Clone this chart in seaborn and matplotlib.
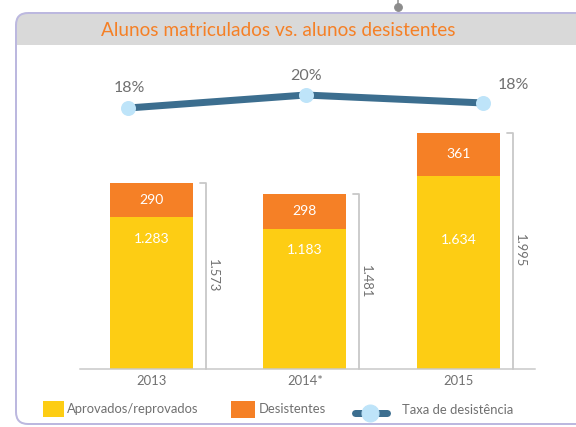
import numpy as np
import pandas as pd
import seaborn as sns
import matplotlib.pyplot as plt
from matplotlib.patches import FancyBboxPatch, Rectangle

# data
years = ['2013', '2014*', '2015']
aprovados = [1283, 1183, 1634]
desistentes = [290, 298, 361]
totais = [1573, 1481, 1995]
taxa = [18.2, 20.0, 18.9]          # drop-out rate, as drawn
taxa_labels = ['18%', '20%', '18%']
aprov_labels = ['1.283', '1.183', '1.634']
total_labels = ['1.573', '1.481', '1.995']
legend_labels = ['Aprovados/reprovados', 'Desistentes', 'Taxa de desistência']

yellow = '#FDCD14'
orange = '#F58026'
navy = '#3C6E8F'
light = '#BEE4F9'
grey_txt = '#707070'
grey_line = '#c8c8c8'

sns.set_theme(style='white')
plt.rcParams['font.family'] = ['Lato', 'DejaVu Sans']

W, H = 576, 427
fig = plt.figure(figsize=(W / 72, H / 72), dpi=72)

# frame, title band and connector (pixel coords)
bg = fig.add_axes([0, 0, 1, 1], zorder=0)
bg.set_xlim(0, W)
bg.set_ylim(H, 0)
bg.axis('off')
clip = FancyBboxPatch((16, 13), 640, 411, boxstyle='round,pad=0,rounding_size=12',
                      fc='none', ec='none')
bg.add_patch(clip)
band = Rectangle((0, 0), W, 45, fc='#d9d9d9', ec='none', zorder=1)
bg.add_patch(band)
band.set_clip_path(clip)
bg.add_patch(FancyBboxPatch((16, 13), 640, 411, boxstyle='round,pad=0,rounding_size=12',
                            fc='none', ec='#bcb8df', lw=2, zorder=2))
bg.plot([398, 398], [0, 7], color='#8c8c8c', lw=1.5, zorder=3)
bg.scatter([398], [7], s=60, color='#8c8c8c', zorder=3)
bg.text(278, 31, 'Alunos matriculados vs. alunos desistentes', ha='center', va='center',
        color=orange, fontsize=19, zorder=3)

# legend
bg.add_patch(Rectangle((43, 401), 21, 16, fc=yellow, ec='none', zorder=3))
bg.text(67, 409, legend_labels[0], ha='left', va='center', color=grey_txt, fontsize=13)
bg.add_patch(Rectangle((231, 401), 24, 17, fc=orange, ec='none', zorder=3))
bg.text(259, 409, legend_labels[1], ha='left', va='center', color=grey_txt, fontsize=13)
bg.plot([355, 387], [413, 413], color=navy, lw=7, solid_capstyle='round', zorder=3)
bg.plot([370], [413], marker='o', ms=17, mfc=light, mec=light, zorder=4)
bg.text(402, 410, legend_labels[2], ha='left', va='center', color=grey_txt, fontsize=13)

# stacked bars
ax = fig.add_axes([80 / W, 1 - 369 / H, 455 / W, 309 / H], zorder=1)
ax.patch.set_alpha(0)
df = pd.DataFrame({'ano': years, 'total': totais, 'aprovados': aprovados})
sns.barplot(data=df, x='ano', y='total', color=orange, width=0.54, saturation=1,
            linewidth=0, ax=ax)
sns.barplot(data=df, x='ano', y='aprovados', color=yellow, width=0.54, saturation=1,
            linewidth=0, ax=ax)
ax.set_xlim(-0.466, 2.5)
ax.set_ylim(0, 2612)
for s in ['top', 'left', 'right']:
    ax.spines[s].set_visible(False)
ax.spines['bottom'].set_color(grey_line)
ax.spines['bottom'].set_linewidth(1.5)
ax.set_yticks([])
ax.tick_params(axis='x', length=0, colors=grey_txt, labelsize=13, pad=6)
ax.set_xlabel('')
ax.set_ylabel('')

px = 2612 / 309  # data units per pixel
yellow_label_px = [22, 21, 64]
for i in range(len(years)):
    ax.text(i, aprovados[i] + desistentes[i] / 2, str(desistentes[i]), ha='center', va='center',
            color='white', fontsize=14)
    ax.text(i, aprovados[i] - yellow_label_px[i] * px, aprov_labels[i], ha='center', va='center',
            color='white', fontsize=14)
    bx = i + 0.27 + 13 / 153.5
    ax.plot([bx - 0.04, bx, bx], [totais[i], totais[i], 0], color=grey_line, lw=1.8, clip_on=False)
    ax.text(bx + 7 / 153.5, totais[i] / 2, total_labels[i], rotation=270, ha='center', va='center',
            color=grey_txt, fontsize=13)

# drop-out rate line
lx = fig.add_axes([128 / W, 1 - 120 / H, 355 / W, 40 / H], zorder=2)
lx.set_xlim(0, 2)
lx.set_ylim(16.54, 22.08)
lx.axis('off')
sns.lineplot(x=[0, 1, 2], y=taxa, ax=lx, color=navy, lw=7, marker='o', markersize=15,
             markerfacecolor=light, markeredgewidth=0, clip_on=False)
label_offsets = [(1, 20), (1, 19), (30, 18)]
for i in range(len(years)):
    lx.annotate(taxa_labels[i], (i, taxa[i]), xytext=label_offsets[i], textcoords='offset points',
                ha='center', va='center', color=grey_txt, fontsize=16, annotation_clip=False)

fig.savefig('out.png', dpi=72)
